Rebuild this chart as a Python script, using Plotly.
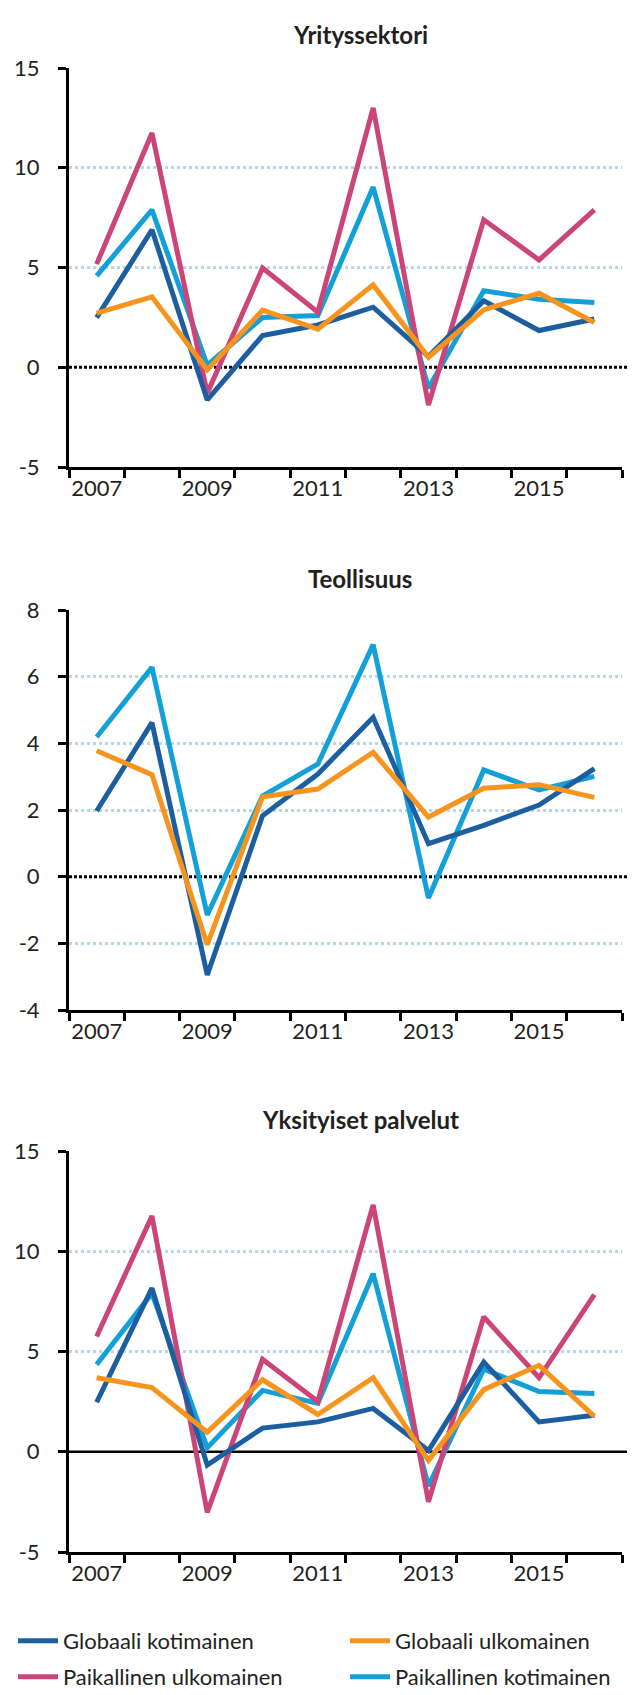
import plotly.graph_objects as go

years = [2007, 2008, 2009, 2010, 2011, 2012, 2013, 2014, 2015, 2016]
tick_years = ["2007", "2009", "2011", "2013", "2015"]

titles = ["Yrityssektori", "Teollisuus", "Yksityiset palvelut"]
names = ["Globaali kotimainen", "Globaali ulkomainen",
         "Paikallinen ulkomainen", "Paikallinen kotimainen"]
colors = ["#1d5ea0", "#f7941d", "#cc4578", "#139fd8"]

# Yrityssektori
yr_gk = [2.49, 6.89, -1.64, 1.59, 2.12, 3.01, 0.54, 3.33, 1.84, 2.42]
yr_gu = [2.71, 3.53, -0.13, 2.86, 1.91, 4.13, 0.50, 2.88, 3.71, 2.24]
yr_pu = [5.17, 11.74, -1.30, 4.97, 2.76, 13.0, -1.89, 7.39, 5.38, 7.89]
yr_pk = [4.58, 7.89, 0.10, 2.49, 2.59, 9.03, -1.05, 3.83, 3.41, 3.24]

# Teollisuus
te_gk = [1.97, 4.62, -2.95, 1.83, 3.08, 4.78, 0.99, 1.54, 2.15, 3.24]
te_gu = [3.78, 3.06, -2.04, 2.40, 2.63, 3.73, 1.79, 2.65, 2.76, 2.38]
te_pk = [4.19, 6.28, -1.15, 2.42, 3.38, 6.96, -0.64, 3.20, 2.60, 3.01]

# Yksityiset palvelut
yp_gk = [2.47, 8.16, -0.67, 1.18, 1.49, 2.16, 0.06, 4.47, 1.49, 1.82]
yp_gu = [3.69, 3.20, 0.98, 3.59, 1.86, 3.69, -0.43, 3.10, 4.31, 1.76]
yp_pu = [5.75, 11.76, -3.02, 4.61, 2.51, 12.31, -2.49, 6.73, 3.69, 7.84]
yp_pk = [4.35, 7.90, 0.20, 3.06, 2.41, 8.88, -1.71, 4.12, 3.00, 2.90]

# y-axis ticks per panel
y_ticks_a = [-5, 0, 5, 10, 15]
y_ticks_b = [-4, -2, 0, 2, 4, 6, 8]
y_ticks_c = [-5, 0, 5, 10, 15]

W, H = 635, 1695
FONT = "Lato"
TXT = "#231f20"
GRID = "#b9d6e6"

x_idx = list(range(len(years)))

fig = go.Figure()

panels = [
    {"gk": yr_gk, "gu": yr_gu, "pu": yr_pu, "pk": yr_pk},
    {"gk": te_gk, "gu": te_gu, "pu": None, "pk": te_pk},
    {"gk": yp_gk, "gu": yp_gu, "pu": yp_pu, "pk": yp_pk},
]
keys = ["gk", "gu", "pu", "pk"]
draw_order = ["pk", "pu", "gk", "gu"]

for p, panel in enumerate(panels):
    xa = "x" if p == 0 else f"x{p+1}"
    ya = "y" if p == 0 else f"y{p+1}"
    for k in draw_order:
        vals = panel[k]
        if vals is None:
            continue
        i = keys.index(k)
        fig.add_trace(go.Scatter(
            x=x_idx, y=vals, mode="lines", name=names[i],
            line=dict(color=colors[i], width=5),
            xaxis=xa, yaxis=ya, showlegend=False, hoverinfo="skip",
        ))

legend_ids = ["legend", "legend2", "legend3", "legend4"]
for i, k in enumerate(keys):
    fig.add_trace(go.Scatter(
        x=[None], y=[None], mode="lines", name=names[i],
        line=dict(color=colors[i], width=5),
        xaxis="x3", yaxis="y3", showlegend=True, legend=legend_ids[i],
    ))

xdom = [61 / W, 614 / W]
ydoms = [
    [1 - 459 / H, 1 - 60 / H],
    [1 - 1002 / H, 1 - 602 / H],
    [1 - 1544 / H, 1 - 1143 / H],
]
yticks = [y_ticks_a, y_ticks_b, y_ticks_c]

layout = dict(
    width=W, height=H,
    margin=dict(l=0, r=0, t=0, b=0, autoexpand=False),
    paper_bgcolor="white", plot_bgcolor="white",
    font=dict(family=FONT, size=22, color=TXT),
    showlegend=True,
)

shapes = []
annotations = []
for p in range(3):
    xk = "xaxis" if p == 0 else f"xaxis{p+1}"
    yk = "yaxis" if p == 0 else f"yaxis{p+1}"
    yref = "y" if p == 0 else f"y{p+1}"
    xref = "x" if p == 0 else f"x{p+1}"
    tv = yticks[p]
    layout[xk] = dict(
        domain=xdom, anchor=yref, range=[-0.5, 9.5],
        tickmode="array", tickvals=[0, 2, 4, 6, 8], ticktext=tick_years,
        ticks="", showgrid=False, zeroline=False,
        showline=True, linecolor="black", linewidth=3,
        tickfont=dict(family=FONT, size=22, color=TXT),
        ticklabelstandoff=0,
        minor=dict(tickmode="array", tickvals=[v - 0.5 for v in range(11)],
                   ticks="outside", ticklen=8, tickwidth=2.5,
                   tickcolor="black", showgrid=False),
    )
    layout[yk] = dict(
        domain=ydoms[p], anchor=xref, range=[tv[0], tv[-1]],
        tickmode="array", tickvals=tv, ticktext=[str(v) for v in tv],
        ticks="outside", ticklen=8, tickwidth=2.5, tickcolor="black",
        showline=True, linecolor="black", linewidth=3,
        showgrid=False, zeroline=False,
        minor=dict(tickmode="array", tickvals=[v for v in tv[1:] if v != 0],
                   ticks="", showgrid=True, gridcolor=GRID, griddash="dot",
                   gridwidth=2.5),
        tickfont=dict(family=FONT, size=22, color=TXT),
        ticklabelstandoff=14,
    )
    shapes.append(dict(
        type="line", xref=f"{xref} domain", yref=yref,
        x0=0, x1=1.013, y0=0, y1=0, layer="below",
        line=dict(color="black", width=3 if p < 2 else 2.5,
                  dash="3px,2px" if p < 2 else "solid"),
    ))

title_y = [27, 570, 1111]
for p in range(3):
    annotations.append(dict(
        text=f"<b>{titles[p]}</b>", xref="paper", yref="paper",
        x=352 / W, y=1 - title_y[p] / H, xanchor="center", yanchor="middle",
        showarrow=False, font=dict(family=FONT, size=24, color=TXT),
    ))

layout["shapes"] = shapes
layout["annotations"] = annotations

leg_pos = [(5, 1612), (337, 1612), (5, 1648), (337, 1648)]
for lid, (lx, ly) in zip(legend_ids, leg_pos):
    layout[lid] = dict(
        orientation="h", x=lx / W, y=1 - ly / H, xanchor="left",
        yanchor="top", xref="paper", yref="paper",
        font=dict(family=FONT, size=22, color=TXT),
        bgcolor="rgba(0,0,0,0)", itemwidth=40,
    )

fig.update_layout(**layout)
fig.write_html("out.html")
